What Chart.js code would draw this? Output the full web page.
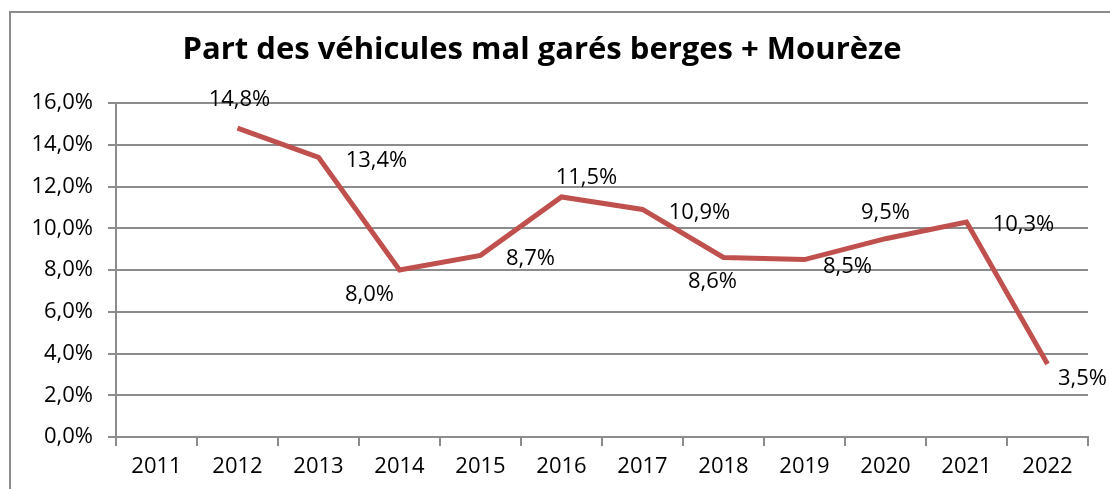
<!DOCTYPE html>
<html>
<head>
<meta charset="utf-8">
<script src="https://cdn.jsdelivr.net/npm/chart.js@4.4.0/dist/chart.umd.min.js"></script>
<style>
html,body{margin:0;padding:0;background:#fff;}
#wrap{width:1110px;height:489px;position:relative;}
</style>
</head>
<body>
<div id="wrap"><canvas id="c" width="1110" height="489"></canvas></div>
<script>
// ---- data ----
const titleText = "Part des véhicules mal garés berges + Mourèze";
const years = ["2011","2012","2013","2014","2015","2016","2017","2018","2019","2020","2021","2022"];
const shareValues = [null, 14.8, 13.4, 8.0, 8.7, 11.5, 10.9, 8.6, 8.5, 9.5, 10.3, 3.5];
const yTickValues = [0, 2, 4, 6, 8, 10, 12, 14, 16];

// label placement offsets relative to each point (style only)
const labelOffsets = [
  null, [2,-28], [58,3], [-30,25], [50,3], [25,-19], [57,3], [-11,24], [43,7], [0,-26], [57,3], [35,15]
];

const fmt = v => v.toFixed(1).replace('.', ',') + '%';
const FONT = "'Open Sans', 'DejaVu Sans', sans-serif";
const GRID = '#8c8c8c';

const framePlugin = {
  id: 'frame',
  beforeDraw(chart) {
    const ctx = chart.ctx;
    ctx.save();
    ctx.fillStyle = '#fff';
    ctx.fillRect(0, 0, chart.width, chart.height);
    ctx.strokeStyle = GRID;
    ctx.lineWidth = 2;
    ctx.strokeRect(10, 12, 1300, 700);
    ctx.fillStyle = '#000';
    ctx.font = "bold 31px " + FONT;
    ctx.textAlign = 'center';
    ctx.textBaseline = 'alphabetic';
    ctx.fillText(titleText, 542, 59);
    ctx.restore();
  }
};

const labelPlugin = {
  id: 'valueLabels',
  afterDatasetsDraw(chart) {
    const ctx = chart.ctx;
    const meta = chart.getDatasetMeta(0);
    ctx.save();
    ctx.fillStyle = '#000';
    ctx.font = "22px " + FONT;
    ctx.textAlign = 'center';
    ctx.textBaseline = 'middle';
    shareValues.forEach((v, i) => {
      if (v === null) return;
      const p = meta.data[i];
      const o = labelOffsets[i] || [0, -20];
      ctx.fillText(fmt(v), p.x + o[0], p.y + o[1]);
    });
    ctx.restore();
  }
};

new Chart(document.getElementById('c'), {
  type: 'line',
  data: {
    labels: years,
    datasets: [{
      data: shareValues,
      borderColor: '#C0504D',
      borderWidth: 5,
      pointRadius: 0,
      pointHoverRadius: 0,
      tension: 0,
      fill: false,
      spanGaps: false
    }]
  },
  options: {
    responsive: false,
    animation: false,
    events: [],
    layout: { padding: { left: 0, right: 22, top: 103, bottom: 0 } },
    plugins: {
      legend: { display: false },
      title: { display: false },
      tooltip: { enabled: false }
    },
    scales: {
      x: {
        type: 'category',
        offset: true,
        afterFit(s) { s.height = 52; },
        grid: {
          offset: true,
          drawOnChartArea: false,
          drawTicks: true,
          tickLength: 9,
          color: GRID,
          lineWidth: 2
        },
        border: { display: true, color: GRID, width: 2 },
        ticks: {
          color: '#000',
          font: { family: FONT, size: 22 },
          padding: 8,
          maxRotation: 0,
          autoSkip: false
        }
      },
      y: {
        min: 0,
        max: 16,
        afterFit(s) { s.width = 116; },
        afterBuildTicks(s) { s.ticks = yTickValues.map(v => ({ value: v })); },
        grid: {
          color: GRID,
          lineWidth: 2,
          drawTicks: true,
          tickLength: 8
        },
        border: { display: true, color: GRID, width: 2 },
        ticks: {
          color: '#000',
          font: { family: FONT, size: 22 },
          padding: 15,
          callback: v => fmt(v)
        }
      }
    }
  },
  plugins: [framePlugin, labelPlugin]
});
</script>
</body>
</html>
